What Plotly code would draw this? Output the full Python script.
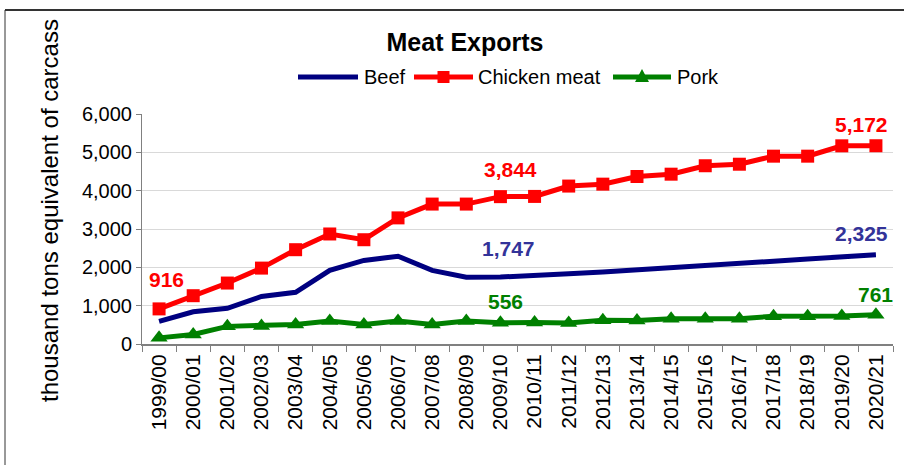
import plotly.graph_objects as go

years = ["1999/00", "2000/01", "2001/02", "2002/03", "2003/04", "2004/05", "2005/06",
         "2006/07", "2007/08", "2008/09", "2009/10", "2010/11", "2011/12", "2012/13",
         "2013/14", "2014/15", "2015/16", "2016/17", "2017/18", "2018/19", "2019/20", "2020/21"]

beef = [590, 840, 930, 1240, 1350, 1920, 2180, 2290, 1920, 1740, 1747, 1780, 1830, 1880,
        1930, 1980, 2030, 2080, 2160, 2220, 2270, 2325]
chicken = [916, 1260, 1590, 1980, 2460, 2870, 2720, 3290, 3650, 3650, 3844, 3850, 4120, 4170,
           4370, 4430, 4650, 4690, 4900, 4900, 5170, 5172]
pork = [160, 250, 460, 470, 510, 600, 510, 600, 510, 600, 556, 560, 550, 620,
        615, 660, 660, 660, 725, 725, 730, 761]

series_names = ["Beef", "Chicken meat", "Pork"]

FONT = "Liberation Sans, Arial, sans-serif"
NAVY = "#000080"
RED = "#FF0000"
GREEN = "#008000"

# plot-area geometry in pixels (for paper-coordinate helpers)
L, R, T, B = 142, 893, 114, 344
def px(x):
    return (x - L) / (R - L)
def py(y):
    return (B - y) / (B - T)

fig = go.Figure()
fig.add_trace(go.Scatter(x=years, y=beef, name=series_names[0], mode="lines",
                         line=dict(color=NAVY, width=5)))
fig.add_trace(go.Scatter(x=years, y=chicken, name=series_names[1], mode="lines+markers",
                         line=dict(color=RED, width=5),
                         marker=dict(symbol="square", size=13, color=RED)))
fig.add_trace(go.Scatter(x=years, y=pork, name=series_names[2], mode="lines+markers",
                         line=dict(color=GREEN, width=5),
                         marker=dict(symbol="triangle-up", size=15, color=GREEN)))

annotations = []
def lab(series, idx, color, xs, ys):
    annotations.append(dict(x=years[idx], y=series[idx], text=f"<b>{series[idx]:,}</b>",
                            showarrow=False, xshift=xs, yshift=ys,
                            font=dict(family=FONT, size=21, color=color)))

lab(chicken, 0, RED, 7, 29)
lab(chicken, 10, RED, 10, 27)
lab(chicken, 21, RED, -14, 21)
lab(beef, 10, "#333399", 8, 29)
lab(beef, 21, "#333399", -14, 21)
lab(pork, 10, GREEN, 5, 21)
lab(pork, 21, GREEN, 0, 20)

# y axis title as annotation
annotations.append(dict(xref="paper", yref="paper", x=px(49), y=py(211),
                        xanchor="center", yanchor="middle",
                        text="thousand tons equivalent of carcass", textangle=-90,
                        showarrow=False, font=dict(family=FONT, size=24, color="black")))

shapes = [
    dict(type="line", xref="paper", yref="paper", x0=px(5), x1=px(910),
         y0=py(10), y1=py(10), line=dict(color="#333333", width=2)),
    dict(type="line", xref="paper", yref="paper", x0=px(5), x1=px(5),
         y0=py(10), y1=py(470), line=dict(color="#333333", width=1)),
]

# custom legend (long line keys like the original)
LY = 77
leg = [(298, 358, 362, NAVY, None), (414, 473, 476, RED, "square"), (613, 671, 675, GREEN, "tri")]
for (x0, x1, tx, col, mk), name in zip(leg, series_names):
    shapes.append(dict(type="line", xref="paper", yref="paper", x0=px(x0), x1=px(x1),
                       y0=py(LY), y1=py(LY), line=dict(color=col, width=5)))
    cx = (x0 + x1) / 2
    if mk == "square":
        shapes.append(dict(type="rect", xref="paper", yref="paper",
                           x0=px(cx - 6), x1=px(cx + 6), y0=py(LY - 6), y1=py(LY + 6),
                           fillcolor=col, line=dict(width=0)))
    elif mk == "tri":
        shapes.append(dict(type="path", xref="paper", yref="paper",
                           path=f"M {px(cx-7)} {py(LY+5)} L {px(cx+7)} {py(LY+5)} L {px(cx)} {py(LY-8)} Z",
                           fillcolor=col, line=dict(width=0)))
    annotations.append(dict(xref="paper", yref="paper", x=px(tx), y=py(LY), xanchor="left",
                            yanchor="middle", text=name, showarrow=False,
                            font=dict(family=FONT, size=20, color="black")))

fig.update_layout(
    width=904, height=465,
    margin=dict(l=L, r=904 - R, t=T, b=465 - B),
    paper_bgcolor="white", plot_bgcolor="white",
    title=dict(text="<b>Meat Exports</b>", x=465 / 904, xanchor="center", y=1 - 42 / 465,
               yanchor="middle", font=dict(family=FONT, size=25, color="black")),
    showlegend=False,
    annotations=annotations,
    shapes=shapes,
    font=dict(family=FONT, color="black"),
)

fig.update_xaxes(type="category", range=[-0.5, len(years) - 0.5], tickangle=-90,
                 showline=True, linecolor="#808080", linewidth=2,
                 ticks="outside", tickson="boundaries", ticklen=6, tickcolor="#808080",
                 showgrid=False, tickfont=dict(family=FONT, size=21, color="black"))
fig.update_yaxes(range=[0, 6000], dtick=1000, tickformat=",d",
                 showline=True, linecolor="#808080", linewidth=1,
                 ticks="outside", ticklen=5, tickcolor="#808080",
                 showgrid=True, gridcolor="#D9D9D9", gridwidth=1,
                 zeroline=False,
                 tickfont=dict(family=FONT, size=20, color="black"))

fig.write_html("out.html", config={"displayModeBar": False},
               post_script="document.body.style.margin='0';document.body.style.overflow='hidden';")
